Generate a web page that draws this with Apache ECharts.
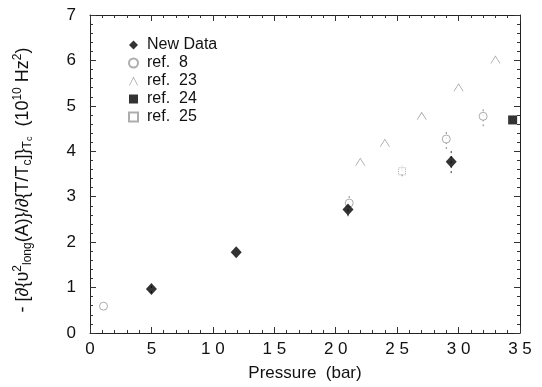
<!DOCTYPE html>
<html><head><meta charset="utf-8">
<script src="https://cdn.jsdelivr.net/npm/echarts@6/dist/echarts.min.js"></script>
<style>html,body{margin:0;padding:0;background:#fff}#c{width:542px;height:387px}</style>
</head><body><div id="c"></div>
<script>
const xTicks = [0, 5, 10, 15, 20, 25, 30, 35];
const yTicks = [0, 1, 2, 3, 4, 5, 6, 7];
const newData = [[5.0, 0.97], [11.9, 1.78], [21.0, 2.72], [29.4, 3.77]];
const newDataErr = [[5.0, 0.88, 1.08], [21.0, 2.57, 2.87], [29.4, 3.52, 4.02]];
const ref8 = [[1.1, 0.59], [21.1, 2.86], [29.0, 4.27], [32.0, 4.77]];
const ref8Err = [[21.1, 2.86, 3.05], [29.0, 4.05, 4.46], [32.0, 4.55, 4.97]];
const ref23 = [[22.0, 3.77], [24.0, 4.19], [27.0, 4.78], [30.0, 5.41], [33.0, 6.02]];
const ref24 = [[34.4, 4.69]];
const ref25 = [[25.4, 3.56]];
const ref25Err = [[25.4, 3.45, 3.68]];

const caret = 'path://M0,10 L5,0 L10,10 L9.2,10 L5,1.6 L0.8,10 Z';
const font = 'Liberation Sans, Arial, sans-serif';

function errSeries(data, color) {
  return {
    type: 'custom', silent: true, z: 1,
    renderItem: function (params, api) {
      const x = api.value(0);
      const lo = api.coord([x, api.value(1)]);
      const hi = api.coord([x, api.value(2)]);
      return { type: 'line', shape: { x1: lo[0], y1: lo[1], x2: hi[0], y2: hi[1] },
        style: { stroke: color, lineWidth: 1, lineDash: [2, 3] } };
    },
    data: data
  };
}

const tickStyle = {
  axisLine: { show: true, onZero: false, lineStyle: { color: '#222', width: 1 } },
  axisTick: { show: true, inside: true, length: 6, lineStyle: { color: '#333' } },
  minorTick: { show: true, splitNumber: 5, length: 3, lineStyle: { color: '#333' } },
  splitLine: { show: false },
  minorSplitLine: { show: false }
};
const labelStyle = { fontFamily: font, fontSize: 17, color: '#111' };

const chart = echarts.init(document.getElementById('c'));
chart.setOption({
  animation: false,
  grid: { left: 90, right: 22, top: 15, bottom: 52 },
  legend: {
    orient: 'vertical', left: 123, top: 32, itemGap: 2, itemWidth: 9, itemHeight: 9,
    textStyle: { fontFamily: font, fontSize: 16, color: '#111', padding: [0, 0, 0, 4] },
    data: ['New Data', 'ref.  8', 'ref.  23', 'ref.  24', 'ref.  25']
  },
  xAxis: [{
    type: 'value', min: 0, max: 35, interval: 5, position: 'bottom',
    ...tickStyle,
    axisLabel: { ...labelStyle, margin: 8, formatter: v => String(v).split('').join(' ') },
    name: 'Pressure  (bar)', nameLocation: 'middle', nameGap: 32,
    nameTextStyle: labelStyle
  }, {
    type: 'value', min: 0, max: 35, interval: 5, position: 'top',
    ...tickStyle, axisLabel: { show: false }
  }],
  yAxis: [{
    type: 'value', min: 0, max: 7, interval: 1, position: 'left',
    ...tickStyle,
    axisLabel: { ...labelStyle, margin: 14 },
    name: '{n|- [∂{υ}{s|2}{b|long}{n|(A)}}{n|/∂{T/T}{b|c}{n|}]}{b|T}{bb|c}{n|  (10}{s|10}{n| Hz}{s|2}{n|)}',
    nameLocation: 'middle', nameGap: 56, nameRotate: 90,
    nameTextStyle: {
      fontFamily: font, fontSize: 18, color: '#111', padding: [0, 12, 0, 0],
      rich: {
        n: { fontFamily: font, fontSize: 18, color: '#111' },
        s: { fontFamily: font, fontSize: 12, color: '#111', verticalAlign: 'top', padding: [0, 0, 9, 0] },
        b: { fontFamily: font, fontSize: 12, color: '#111', verticalAlign: 'bottom', padding: [9, 0, 0, 0] },
        bb: { fontFamily: font, fontSize: 9, color: '#111', verticalAlign: 'bottom', padding: [13, 0, 0, 0] }
      }
    }
  }, {
    type: 'value', min: 0, max: 7, interval: 1, position: 'right',
    ...tickStyle, axisLabel: { show: false }
  }],
  series: [
    errSeries(newDataErr, '#333'),
    errSeries(ref8Err, '#888'),
    errSeries(ref25Err, '#888'),
    { name: 'New Data', type: 'scatter', symbol: 'diamond', symbolSize: [11, 12], z: 5,
      itemStyle: { color: '#000' }, data: newData },
    { name: 'ref.  8', type: 'scatter', symbol: 'circle', symbolSize: 8, z: 4,
      itemStyle: { color: '#fff', borderColor: '#999', borderWidth: 1 }, data: ref8 },
    { name: 'ref.  23', type: 'scatter', symbol: caret, symbolSize: [10, 8], z: 4,
      itemStyle: { color: '#888' }, data: ref23 },
    { name: 'ref.  24', type: 'scatter', symbol: 'rect', symbolSize: 9, z: 4,
      itemStyle: { color: '#000' }, data: ref24 },
    { name: 'ref.  25', type: 'scatter', symbol: 'rect', symbolSize: 7, z: 4,
      itemStyle: { color: '#fff', borderColor: '#999', borderWidth: 1, borderType: 'dotted' }, data: ref25 }
  ]
});
</script></body></html>
